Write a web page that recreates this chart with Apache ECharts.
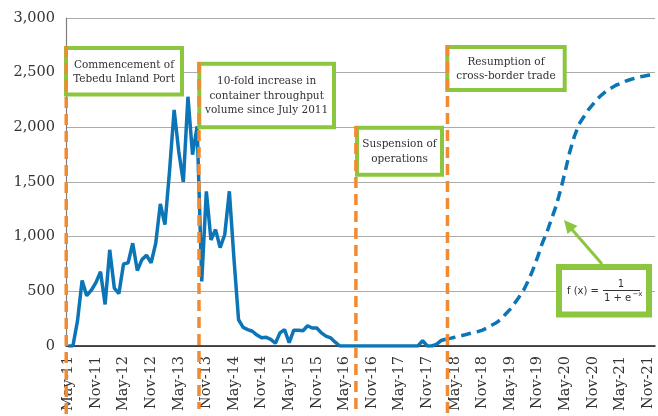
<!DOCTYPE html>
<html>
<head>
<meta charset="utf-8">
<script src="https://cdn.jsdelivr.net/npm/echarts@6/dist/echarts.min.js"></script>
<style>
  html, body { margin: 0; padding: 0; background: #fff; }
  #chart { width: 658px; height: 416px; }
</style>
</head>
<body>
<div id="chart"></div>
<script>
// monthly categories, May-11 .. Dec-21
const monthNames = ['Jan', 'Feb', 'Mar', 'Apr', 'May', 'Jun', 'Jul', 'Aug', 'Sep', 'Oct', 'Nov', 'Dec'];
const categories = [];
for (let y = 2011; y <= 2021; y++) {
  for (let m = 0; m < 12; m++) {
    if (y === 2011 && m < 4) continue;
    categories.push(monthNames[m] + '-' + String(y).slice(2));
  }
}

// observed throughput (May-11 .. Mar-18)
const throughput = [
  0, 0, 230, 600, 460, 510, 580, 680, 380, 880, 530, 480,
  750, 760, 940, 690, 790, 830, 760, 940, 1300, 1110, 1600, 2160,
  1780, 1500, 2280, 1750, 2010, 590, 1415, 970, 1065, 900, 1020, 1415,
  800, 240, 170, 150, 135, 100, 75, 80, 60, 25, 120, 150,
  30, 145, 145, 140, 185, 165, 165, 120, 90, 75, 35, 0,
  0, 0, 0, 0, 0, 0, 0, 0, 0, 0, 0, 0,
  0, 0, 0, 0, 0, 50, 0, 0, 15, 50, 62
];

// projected logistic curve, starting at Mar-18
const projStart = 82;
const projection = [
  62, 70, 80, 90, 100, 112, 122, 132, 145, 165, 190, 212,
  245, 290, 335, 390, 450, 515, 600, 700, 815, 940, 1040, 1160,
  1280, 1430, 1600, 1780, 1920, 2030, 2095, 2160, 2210, 2260, 2300, 2335,
  2360, 2385, 2400, 2420, 2435, 2448, 2460, 2468, 2476, 2482
];

// event markers (category index, may fall between months)
const eventIndex = [-0.45, 28.4, 62.5, 82.4];
const eventLabels = [
  'Commencement of\nTebedu Inland Port',
  '10-fold increase in\ncontainer throughput\nvolume since July 2011',
  'Suspension of\noperations',
  'Resumption of\ncross-border trade'
];

const solidData = categories.map((c, i) => (i < throughput.length ? throughput[i] : null));
const dashedData = categories.map((c, i) => (i >= projStart ? projection[i - projStart] : null));

const serif = 'DejaVu Serif';
const sans = 'DejaVu Sans';
const blue = '#0b75b7';
const green = '#8cc63f';
const orange = '#f28b30';

const chart = echarts.init(document.getElementById('chart'));

chart.setOption({
  animation: false,
  backgroundColor: '#fff',
  grid: { left: 66, right: 3, top: 18, bottom: 70 },
  xAxis: {
    type: 'category',
    data: categories,
    boundaryGap: true,
    axisLine: { lineStyle: { color: '#1a1a1a', width: 1.5 } },
    axisTick: { interval: 5, length: 5, lineStyle: { color: '#1a1a1a', width: 1.2 } },
    axisLabel: {
      interval: 5, rotate: 90, margin: 10,
      fontFamily: serif, fontSize: 14.5, color: '#333'
    },
    splitLine: { show: false }
  },
  yAxis: {
    type: 'value',
    min: 0, max: 3000, interval: 500,
    axisLine: { show: true, lineStyle: { color: '#7f7f7f', width: 1.2 } },
    axisTick: { show: false },
    axisLabel: {
      margin: 11, fontFamily: serif, fontSize: 14.5, color: '#333',
      formatter: v => v.toLocaleString('en-US')
    },
    splitLine: { lineStyle: { color: '#ababab', width: 1.2 } }
  },
  series: [
    {
      type: 'line', data: solidData, symbol: 'none',
      lineStyle: { color: blue, width: 3.5 }
    },
    {
      type: 'line', data: dashedData, symbol: 'none',
      lineStyle: { color: blue, width: 3.5, type: [10, 6] }
    }
  ]
});

// pixel position of a (possibly fractional) category index
const x0 = chart.convertToPixel({ xAxisIndex: 0 }, 0);
const bw = chart.convertToPixel({ xAxisIndex: 0 }, 1) - x0;
const xAt = idx => x0 + idx * bw;

const boxes = [
  { x: 66, y: 48, w: 116, h: 46.5, cy: 72.5 },
  { x: 199.3, y: 63.7, w: 134.7, h: 63.6, cy: 96 },
  { x: 357, y: 127.7, w: 85, h: 47, cy: 152 },
  { x: 447.3, y: 47, w: 117.4, h: 43, cy: 69.5 }
];
const lineTops = [46, 62, 126, 45];
const lineBottoms = [416, 409, 409, 414];

const textStyle = (text, x, y, font, extra) => Object.assign({
  text, x, y, font, fill: '#333',
  align: 'center', verticalAlign: 'middle',
  textAlign: 'center', textVerticalAlign: 'middle'
}, extra || {});

const graphics = [];
boxes.forEach((b, i) => {
  graphics.push({
    type: 'rect', z: 10,
    shape: { x: b.x, y: b.y, width: b.w, height: b.h },
    style: { fill: '#fff', stroke: green, lineWidth: 4 }
  });
  graphics.push({
    type: 'text', z: 11,
    style: textStyle(eventLabels[i], b.x + b.w / 2, b.cy, '10.5px "' + serif + '"', { lineHeight: 14.5 })
  });
});

eventIndex.forEach((idx, i) => {
  const x = xAt(idx);
  graphics.push({
    type: 'line', z: 12,
    shape: { x1: x, y1: lineTops[i], x2: x, y2: lineBottoms[i] },
    style: { stroke: orange, lineWidth: 3.5, lineDash: [11, 6] }
  });
});

// formula box with arrow
graphics.push(
  {
    type: 'rect', z: 10,
    shape: { x: 559, y: 267, width: 90, height: 47.5 },
    style: { fill: '#fff', stroke: green, lineWidth: 6 }
  },
  {
    type: 'line', z: 10,
    shape: { x1: 602, y1: 264, x2: 572, y2: 229.5 },
    style: { stroke: green, lineWidth: 3 }
  },
  {
    type: 'polygon', z: 10,
    shape: { points: [[564, 220], [577.5, 226], [567.5, 234]] },
    style: { fill: green }
  },
  {
    type: 'text', z: 11,
    style: textStyle('f (x) =', 567, 291, '10px "' + sans + '"', { align: 'left', textAlign: 'left' })
  },
  {
    type: 'text', z: 11,
    style: textStyle('1', 621, 284.5, '10px "' + sans + '"')
  },
  {
    type: 'line', z: 11,
    shape: { x1: 603, y1: 290.5, x2: 640, y2: 290.5 },
    style: { stroke: '#333', lineWidth: 1 }
  },
  {
    type: 'text', z: 11,
    style: textStyle('1 + e', 604, 298, '10px "' + sans + '"', { align: 'left', textAlign: 'left' })
  },
  {
    type: 'text', z: 11,
    style: textStyle('\u2212x', 632.5, 294.5, '7px "' + sans + '"', { align: 'left', textAlign: 'left' })
  }
);

chart.setOption({ graphic: { elements: graphics } });
</script>
</body>
</html>
